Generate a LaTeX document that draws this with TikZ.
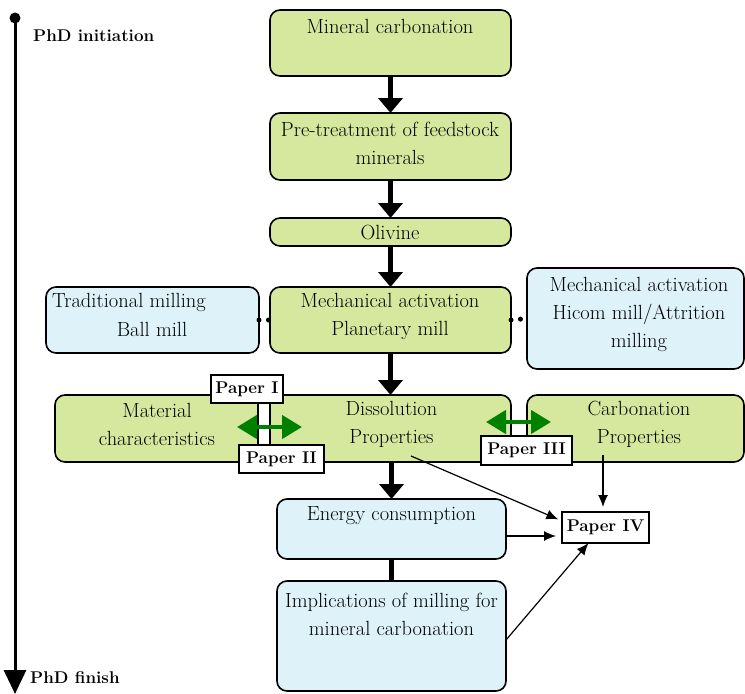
\documentclass[tikz,border=0pt]{standalone}
\usepackage{fontspec}
\usetikzlibrary{arrows.meta}
\definecolor{gfill}{RGB}{214,232,158}
\definecolor{bfill}{RGB}{222,242,250}
\definecolor{darkgreen}{RGB}{0,128,0}
\begin{document}
\begin{tikzpicture}[x=1pt,y=-1pt,
  box/.style={draw, line width=1.6, rounded corners=10, inner sep=0, outer sep=0},
  gbox/.style={box, fill=gfill},
  bbox/.style={box, fill=bfill},
  paper/.style={draw, line width=1.4, fill=white, inner sep=0, outer sep=0, font=\fontsize{17}{20}\selectfont\bfseries},
  txt/.style={inner sep=0, align=center, font=\fontsize{20.5}{28}\selectfont},
  btxt/.style={inner sep=0, font=\fontsize{17}{20}\selectfont\bfseries},
  bigarrow/.style={line width=5, -{Triangle[width=24pt,length=15pt]}},
  thinarrow/.style={line width=1.2, -{Latex[width=10pt,length=12pt]}},
  greenarrow/.style={draw=darkgreen, line width=4.5, {Triangle[width=23pt,length=20pt]}-{Triangle[width=23pt,length=20pt]}},
  dotconn/.style={line width=5, dash pattern=on 0pt off 9.5pt, line cap=round}
]
\useasboundingbox (0,0) rectangle (745,694);

% timeline
\coordinate (tstart) at (15,18);
\coordinate (tend) at (15,694);
\fill (tstart) circle (5.5);
\draw[line width=3, -{Triangle[width=22pt,length=24pt]}] (tstart) -- (tend);
\node[btxt, anchor=west] (phdi) at (33,36) {PhD initiation};
\node[btxt, anchor=west] (phdf) at (30,678) {PhD finish};

% main chain
\node[gbox, minimum width=241, minimum height=66] (mc) at (390.5,43) {};
\node[txt] (mct) at (390,26) {Mineral carbonation};
\node[gbox, minimum width=241, minimum height=67] (pt) at (390.5,146.5) {};
\node[txt] (ptt) at (390,143) {Pre-treatment of feedstock\\minerals};
\node[gbox, minimum width=241, minimum height=28] (ol) at (390.5,232) {};
\node[txt] (olt) at (390,232) {Olivine};
\node[gbox, minimum width=241, minimum height=66] (ma) at (390.5,320) {};
\node[txt] (mat) at (390,316) {Mechanical activation\\Planetary mill};

\node[bbox, minimum width=213, minimum height=66] (trad) at (152.5,320) {};
\node[txt, anchor=west] (tradt1) at (52,302) {Traditional milling};
\node[txt] (tradt2) at (152,329) {Ball mill};

\node[bbox, minimum width=217, minimum height=101] (hic) at (635.5,318.5) {};
\node[txt] (hict) at (639,314.5) {Mechanical activation\\Hicom mill/Attrition\\milling};

\draw[dotconn] (trad.east) -- (ma.west);
\draw[dotconn] (ma.east) -- (hic.west);

% second row
\node[gbox, minimum width=456, minimum height=67] (diss) at (283,428.5) {};
\node[txt] (matt) at (157,424.5) {Material\\characteristics};
\node[txt] (disst) at (391.5,424.5) {Dissolution\\Properties};
\node[gbox, minimum width=217, minimum height=67] (carb) at (635.5,428.5) {};
\node[txt] (carbt) at (639,424.5) {Carbonation\\Properties};

\node[draw, line width=1.3, fill=white, inner sep=0, minimum width=12, minimum height=42] (strip) at (264,424) {};
\node[paper, minimum width=72, minimum height=28] (p1) at (247,389) {Paper I};
\node[paper, minimum width=85, minimum height=28] (p2) at (281.5,459) {Paper II};
\node[paper, minimum width=91, minimum height=29] (p3) at (526.5,450.5) {Paper III};

\coordinate (g1a) at (237,427);
\coordinate (g1b) at (302,427);
\draw[greenarrow] (g1a) -- (g1b);
\coordinate (g2a) at (486,422);
\coordinate (g2b) at (551,422);
\draw[greenarrow] (g2a) -- (g2b);

% lower part
\node[bbox, minimum width=229, minimum height=60] (en) at (391.5,529) {};
\node[txt] (ent) at (391.5,516) {Energy consumption};
\node[bbox, minimum width=229, minimum height=110] (imp) at (391.5,636) {};
\node[txt] (impt) at (391.5,614) {Implications of milling for\\mineral carbonation};
\node[paper, minimum width=87, minimum height=31] (p4) at (605.5,527.5) {Paper IV};

% thick arrows
\draw[bigarrow] (mc.south) -- (pt.north);
\draw[bigarrow] (pt.south) -- (ol.north);
\draw[bigarrow] (ol.south) -- (ma.north);
\draw[bigarrow] (ma.south) -- (ma.south |- diss.north);
\draw[bigarrow] (diss.south -| en.north) -- (en.north);
\draw[line width=5] (en.south) -- (imp.north);

% thin arrows
\coordinate (d1) at (411,456);
\coordinate (c1) at (603,455);
\draw[thinarrow, shorten >=4pt] (d1) -- ([yshift=-9pt]p4.north west);
\draw[thinarrow, shorten >=5pt] (c1) -- (c1 |- p4.north);
\draw[thinarrow, shorten >=6pt] ([yshift=-7pt]en.east) -- ([yshift=-7pt]en.east -| p4.west);
\draw[thinarrow] ([yshift=-4pt]imp.east) -- ([xshift=-17pt]p4.south);
\end{tikzpicture}
\end{document}
